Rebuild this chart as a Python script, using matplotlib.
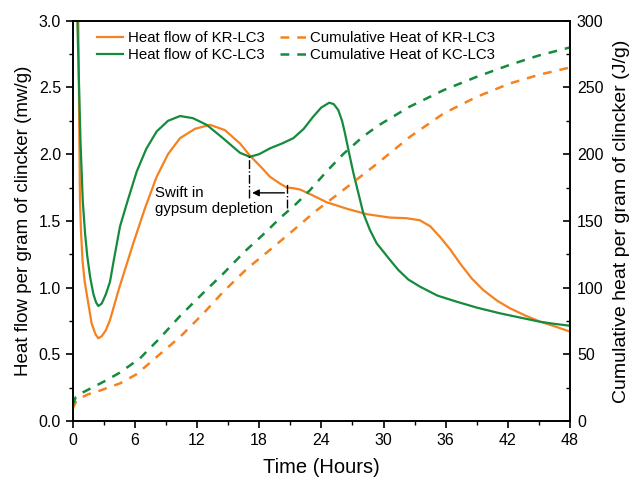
import matplotlib
matplotlib.use("Agg")
import matplotlib.pyplot as plt
from matplotlib.ticker import MultipleLocator, FormatStrFormatter

plt.rcParams['font.family'] = ['Liberation Sans', 'DejaVu Sans']

# Heat flow (mW/g) vs time (h)
t_kr = [0.3, 0.54, 0.62, 0.7, 0.8, 0.95, 1.15, 1.4, 1.83, 2.2, 2.47, 2.8, 3.2, 3.6, 4.5, 5.84, 7.0, 8.1,
        9.2, 10.36, 11.8, 13.25, 14.7, 16.15, 17.1, 18.1, 19.05, 20.0, 20.66, 21.3, 21.95, 23.2, 24.5,
        26.5, 28.4, 30.6, 32.2, 33.5, 34.5, 35.45, 36.4, 37.4, 38.5, 39.65, 41.0, 42.2, 43.7, 45.1, 46.5, 48.0]
hf_kr = [5.0, 3.0, 2.3, 1.66, 1.42, 1.2, 1.05, 0.93, 0.73, 0.65, 0.62, 0.635, 0.68, 0.757, 1.0, 1.33, 1.6, 1.83,
         2.0, 2.12, 2.19, 2.22, 2.18, 2.08, 1.99, 1.91, 1.83, 1.78, 1.75, 1.745, 1.735, 1.69, 1.64,
         1.59, 1.55, 1.525, 1.52, 1.505, 1.46, 1.38, 1.29, 1.18, 1.07, 0.98, 0.9, 0.845, 0.79, 0.745, 0.71, 0.67]

t_kc = [0.3, 0.45, 0.6, 0.75, 0.97, 1.2, 1.4, 1.68, 2.0, 2.25, 2.47, 2.8, 3.2, 3.6, 4.0, 4.57, 5.3, 6.18,
        7.1, 8.1, 9.2, 10.36, 11.6, 12.93, 14.5, 16.15, 17.1, 18.0, 19.05, 20.2, 21.3, 22.3, 23.2, 24.0,
        24.77, 25.2, 25.64, 26.0, 26.28, 26.7, 27.1, 27.6, 28.05, 28.7, 29.34, 30.63, 31.43, 32.4, 33.52,
        35.2, 37.07, 39.0, 41.25, 43.2, 45.1, 46.5, 48.0]
hf_kc = [4.5, 3.0, 2.55, 2.1, 1.65, 1.4, 1.24, 1.08, 0.95, 0.89, 0.862, 0.88, 0.95, 1.044, 1.22, 1.46, 1.65, 1.87,
         2.04, 2.17, 2.25, 2.286, 2.27, 2.22, 2.12, 2.01, 1.98, 2.0, 2.044, 2.08, 2.12, 2.19, 2.28, 2.35,
         2.386, 2.375, 2.33, 2.25, 2.157, 2.0, 1.857, 1.7, 1.557, 1.43, 1.332, 1.207, 1.132, 1.06, 1.007,
         0.94, 0.894, 0.85, 0.807, 0.775, 0.744, 0.728, 0.714]

# Cumulative heat (J/g) vs time (h)
tc_kr = [0.0, 0.4, 1.5, 2.6, 4.57, 6.2, 8.1, 10.36, 12.6, 14.55, 16.8, 19.0, 21.3, 23.4, 26.1, 29.4,
         32.55, 35.8, 39.0, 42.2, 45.0, 48.0]
ch_kr = [9, 16, 20, 22.7, 28.2, 35.2, 48, 63, 80.5, 97, 114, 128, 143, 157, 173, 193,
         213, 230.5, 243, 253, 259.5, 265]

tc_kc = [0.0, 0.3, 1.0, 3.0, 4.5, 6.5, 8.4, 10.4, 12.6, 14.6, 16.6, 18.7, 20.0, 21.6, 22.9, 24.5, 26.1,
         28.0, 29.4, 31.1, 32.5, 35.8, 39.0, 42.2, 45.0, 48.0]
ch_kc = [12, 18, 21.5, 29.5, 36, 47, 62, 79, 96, 111, 127, 142, 152, 163, 173, 187, 200,
         213, 221, 229, 235.5, 248, 258, 267, 274, 280]

x_ticks = [0, 6, 12, 18, 24, 30, 36, 42, 48]

ORANGE = '#F5821F'
GREEN = '#168A3D'

fig = plt.figure(figsize=(6.35, 4.83), dpi=100)
ax = fig.add_axes([0.1145, 0.1284, 0.7831, 0.8286])
ax2 = ax.twinx()

l1, = ax.plot(t_kr, hf_kr, color=ORANGE, lw=1.6, label='Heat flow of KR-LC3')
l2, = ax.plot(t_kc, hf_kc, color=GREEN, lw=1.6, label='Heat flow of KC-LC3')
l3, = ax2.plot(tc_kr, ch_kr, color=ORANGE, lw=1.8, ls=(0, (3.5, 3.2)), label='Cumulative Heat of KR-LC3')
l4, = ax2.plot(tc_kc, ch_kc, color=GREEN, lw=1.8, ls=(0, (3.5, 3.2)), label='Cumulative Heat of KC-LC3')

ax.set_xlim(0, 48)
ax.set_ylim(0, 3.0)
ax2.set_ylim(0, 300)
ax.set_xticks(x_ticks)
ax.xaxis.set_minor_locator(MultipleLocator(3))
ax.yaxis.set_major_locator(MultipleLocator(0.5))
ax.yaxis.set_minor_locator(MultipleLocator(0.25))
ax.yaxis.set_major_formatter(FormatStrFormatter('%.1f'))
ax2.yaxis.set_major_locator(MultipleLocator(50))
ax2.yaxis.set_minor_locator(MultipleLocator(25))

ax.tick_params(axis='both', which='major', direction='out', length=5, width=1.2, labelsize=11.5,
               top=False, right=False)
ax.tick_params(axis='both', which='minor', direction='out', length=3, width=1.0, top=False, right=False)
ax2.tick_params(axis='y', which='major', direction='in', length=5, width=1.2, labelsize=11.5, pad=5)
ax2.tick_params(axis='y', which='minor', direction='in', length=3, width=1.0)

for a in (ax, ax2):
    for s in a.spines.values():
        s.set_linewidth(1.2)

ax.set_xlabel('Time (Hours)', fontsize=14.5, labelpad=7)
ax.set_ylabel('Heat flow per gram of clincker (mw/g)', fontsize=13.5, labelpad=5)
ax2.set_ylabel('Cumulative heat per gram of clincker (J/g)', fontsize=14, labelpad=7)

# annotation
ax.plot([17.05, 17.05], [1.67, 1.99], color='black', lw=1.0, ls='-.')
ax.plot([20.7, 20.7], [1.60, 1.78], color='black', lw=1.0, ls='-.')
ax.annotate('', xy=(17.05, 1.71), xytext=(20.7, 1.71),
            arrowprops=dict(arrowstyle='-|>', color='black', lw=1.0, mutation_scale=10))
ax.text(7.9, 1.765, 'Swift in\ngypsum depletion', fontsize=10.8, ha='left', va='top', linespacing=1.2)

leg = ax.legend(handles=[l1, l2, l3, l4], loc='upper left', ncol=2, frameon=False, fontsize=10.8,
                bbox_to_anchor=(0.028, 1.0), handlelength=1.75, handletextpad=0.3,
                columnspacing=1.0, labelspacing=0.2, borderaxespad=0.3)

fig.savefig('out.png', dpi=100)
